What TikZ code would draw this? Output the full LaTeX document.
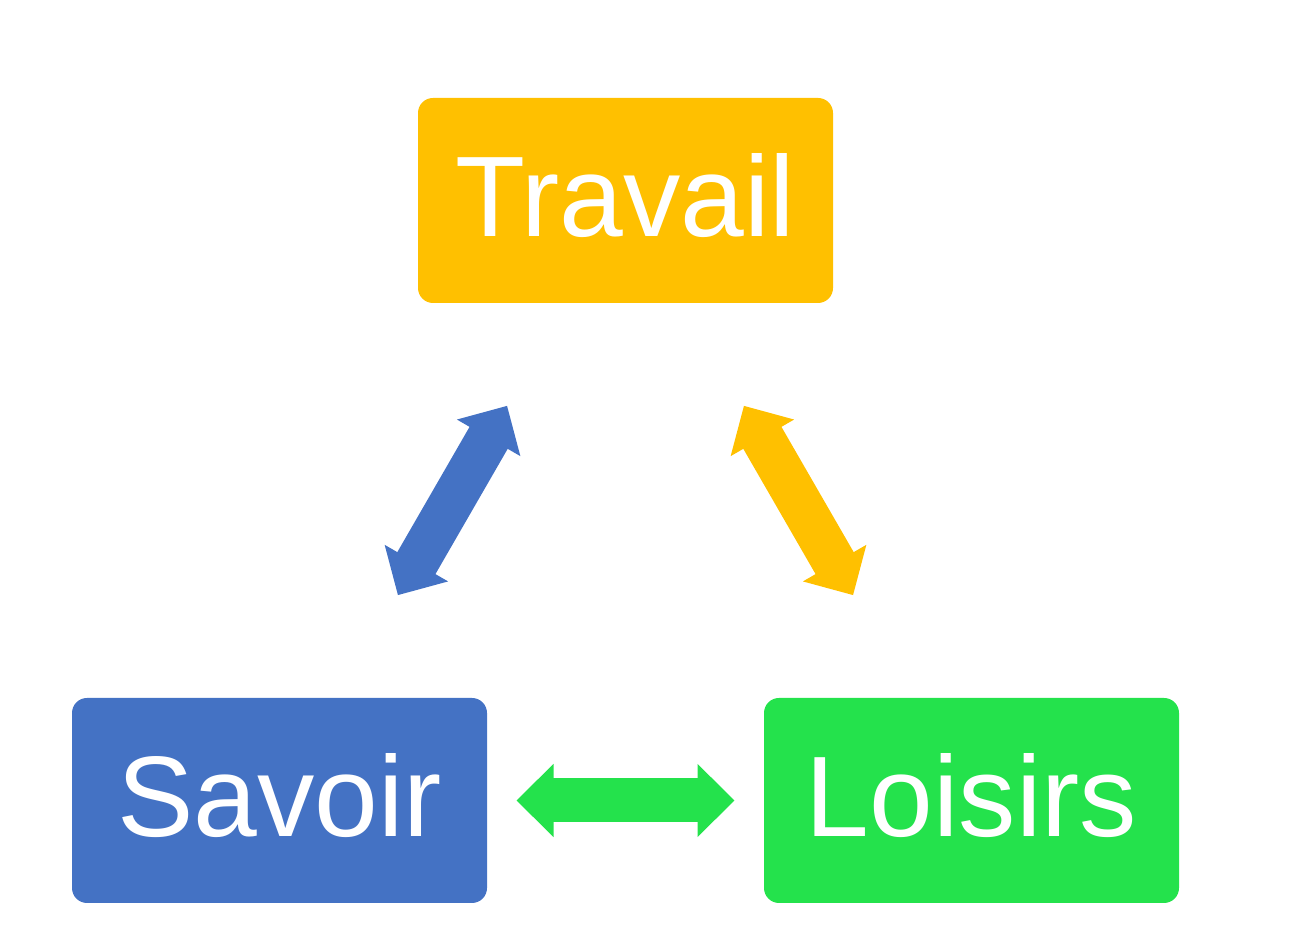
\documentclass[tikz,border=0pt]{standalone}
\usepackage{fontspec}
\setmainfont{Liberation Sans}
\usetikzlibrary{arrows.meta}

\definecolor{travailorange}{HTML}{FFC000}
\definecolor{savoirblue}{HTML}{4472C4}
\definecolor{loisirsgreen}{HTML}{24E24C}

\tikzset{
  box/.style = {rounded corners=0.15cm, minimum width=4.15cm, minimum height=2.05cm,
                inner sep=0pt, text height=0.86cm, text depth=0.13cm,
                text=white, font=\fontsize{32.6}{39}\selectfont},
  link/.style = {line width=0.44cm,
                 {Triangle[length=0.37cm,width=0.71cm]}-{Triangle[length=0.37cm,width=0.71cm]},
                 shorten <=2.37cm, shorten >=2.37cm},
}

\begin{document}
\begin{tikzpicture}

\useasboundingbox (0,0) rectangle (12.99,9.45);

\node [box, fill=travailorange] (travail) at (6.255,7.445) {Travail};
\node [box, fill=savoirblue] (savoir) at (2.795,1.445) {Savoir};
\node [box, fill=loisirsgreen] (loisirs) at (9.715,1.445) {Loisirs};

%\draw (savoir) -- (travail) -- (loisirs) -- (savoir);
\draw[link, savoirblue] (savoir.center) -- (travail.center);
\draw[link, travailorange] (travail.center) -- (loisirs.center);
\draw[link, loisirsgreen] (savoir.center) -- (loisirs.center);

\end{tikzpicture}
\end{document}
